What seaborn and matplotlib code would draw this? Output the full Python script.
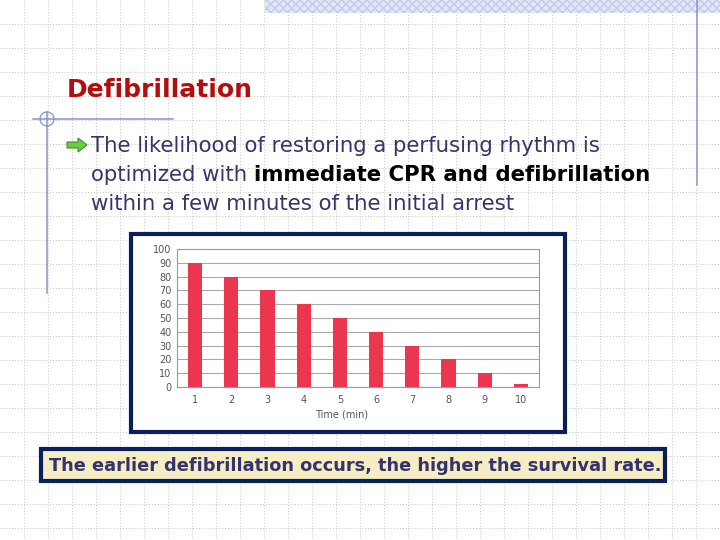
import matplotlib
matplotlib.use("Agg")
import matplotlib.pyplot as plt
import seaborn as sns
from matplotlib.patches import Rectangle, Circle, Polygon

# chart data (survival % by minutes until defibrillation)
minutes = ["1", "2", "3", "4", "5", "6", "7", "8", "9", "10"]
survival = [90, 80, 70, 60, 50, 40, 30, 20, 10, 2]
y_ticks = [0, 10, 20, 30, 40, 50, 60, 70, 80, 90, 100]

title = "Defibrillation"
bullet_l1 = "The likelihood of restoring a perfusing rhythm is"
bullet_l2a = "optimized with"
bullet_l2b = "immediate CPR and defibrillation"
bullet_l3 = "within a few minutes of the initial arrest"
caption = "The earlier defibrillation occurs, the higher the survival rate."

W, H = 720, 540
fig = plt.figure(figsize=(7.2, 5.4), dpi=100)

# slide background in pixel coordinates
bg = fig.add_axes([0, 0, 1, 1])
bg.set_xlim(0, W)
bg.set_ylim(H, 0)
bg.axis("off")

for gx in range(24, W, 24):
    bg.plot([gx, gx], [0, H], color="#c4c4c4", lw=0.7, ls=(0, (1, 2)), zorder=0)
for gy in range(24, H, 24):
    bg.plot([0, W], [gy, gy], color="#c4c4c4", lw=0.7, ls=(0, (1, 2)), zorder=0)

line_c = "#8a92c4"
bg.add_patch(Rectangle((265, 0), W - 265, 13, facecolor="#e2e6f5",
                       edgecolor="#c3cbea", lw=0, hatch="xxxx", zorder=1))
bg.plot([697, 697], [0, 185], color=line_c, lw=1.1, zorder=2)
bg.plot([33, 173], [119, 119], color=line_c, lw=1.1, zorder=2)
bg.plot([47, 47], [112, 293], color=line_c, lw=1.1, zorder=2)
bg.add_patch(Circle((47, 119), 7, facecolor="none", edgecolor=line_c, lw=0.9, zorder=2))

bg.text(67, 97, title, fontsize=18, fontweight="bold", color="#b50d0d",
        family="DejaVu Sans", va="baseline", ha="left")

# green arrow bullet
bg.add_patch(Polygon([(67, 142), (78, 142), (78, 138), (87, 145), (78, 152),
                      (78, 148), (67, 148)], closed=True,
                     facecolor="#6ccb4a", edgecolor="#3d8f2a", lw=0.8, zorder=3))

txt_c = "#35356a"
fs = 15.3
bg.text(91, 152, bullet_l1, fontsize=fs, color=txt_c, va="baseline", ha="left")
t2 = bg.text(91, 181, bullet_l2a, fontsize=fs, color=txt_c, va="baseline", ha="left")
bg.annotate(bullet_l2b, xy=(1, 0), xycoords=t2, xytext=(4.8, 0),
            textcoords="offset points", fontsize=fs, fontweight="bold",
            color="black", va="bottom", ha="left")
bg.text(91, 210, bullet_l3, fontsize=fs, color=txt_c, va="baseline", ha="left")

# chart frame
bg.add_patch(Rectangle((131, 234), 434, 198, facecolor="white",
                       edgecolor="#0b1f5a", lw=3, zorder=4))

# caption box
bg.add_patch(Rectangle((41, 449), 624, 32, facecolor="#f6edc4",
                       edgecolor="#0b1f5a", lw=3, zorder=4))
bg.text(355, 466, caption, fontsize=12.8, fontweight="bold", color="#34346c",
        va="center", ha="center", zorder=5)

# bar chart
ax = fig.add_axes([177 / W, 1 - 387 / H, (539 - 177) / W, (387 - 249) / H])
sns.barplot(x=minutes, y=survival, color="#ec3650", saturation=1,
            width=0.39, ax=ax, zorder=3)
ax.set_ylim(0, 100)
ax.set_xlim(-0.5, len(minutes) - 0.5)
ax.set_yticks(y_ticks)
ax.set_yticklabels([str(v) for v in y_ticks])
ax.yaxis.grid(True, color="#a8a8a8", lw=0.8, zorder=0)
ax.set_axisbelow(True)
for s in ax.spines.values():
    s.set_color("#9a9a9a")
    s.set_linewidth(0.8)
ax.tick_params(axis="both", length=0, labelsize=7, labelcolor="#555555")
ax.tick_params(axis="y", pad=4)
ax.tick_params(axis="x", pad=6)
ax.set_ylabel("")
ax.set_xlabel("Time (min)", fontsize=7, color="#555555")
ax.xaxis.set_label_coords(0.456, -0.16)

fig.savefig("out.png", dpi=100)
